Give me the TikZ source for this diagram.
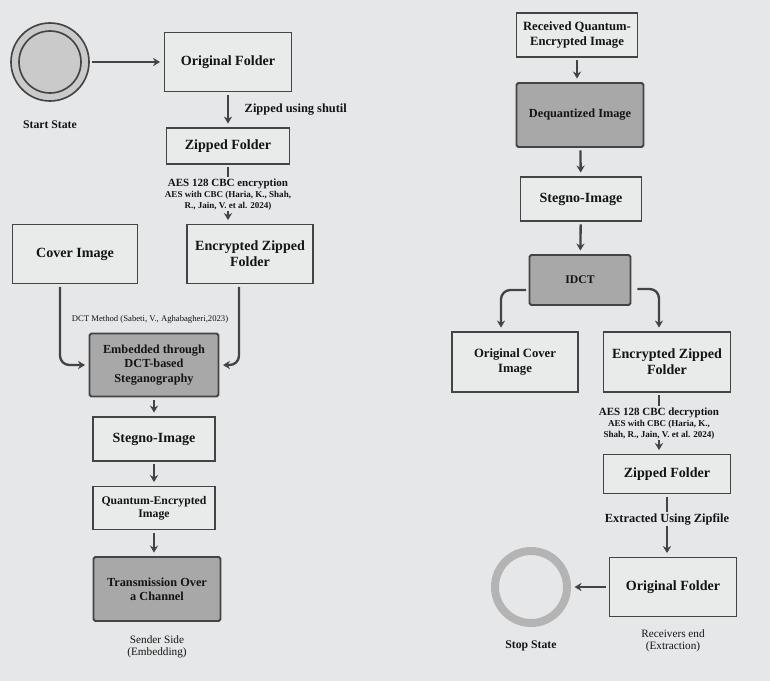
\documentclass[tikz,border=0pt]{standalone}
\usepackage{fontspec}
\setmainfont{Liberation Serif}
\usepackage{tikz}
\usetikzlibrary{shapes.geometric, arrows, arrows.meta}
\usetikzlibrary{positioning}
\definecolor{bgGrey}{HTML}{E6E7E8}
\definecolor{boxFill}{HTML}{E9EAEA}
\definecolor{darkFill}{HTML}{A8A8A8}
\definecolor{lineGrey}{HTML}{444444}
\definecolor{startFill}{HTML}{CACACA}
\definecolor{ringGrey}{HTML}{B4B4B4}
\tikzstyle{box} = [rectangle, minimum width=3.75cm, minimum height=1.77cm, align=center, draw=lineGrey, line width=1.6pt, fill=boxFill, text=black!92, font=\fontsize{12}{13.6}\selectfont\bfseries]
\tikzstyle{darkBox} = [box, fill=darkFill, rounded corners=1.5pt, font=\fontsize{10.5}{12.3}\selectfont\bfseries]
\tikzstyle{arrow} = [line width=2pt, draw=lineGrey, ->, >={Stealth[length=6pt, width=7pt]}, shorten <=2pt, shorten >=3pt]
\tikzstyle{stateNode} = [circle, minimum size=2.34cm, draw=lineGrey, line width=1.4pt, fill=startFill]
\tikzstyle{caption} = [align=center, text=black!92, font=\fontsize{10}{11.5}\selectfont\bfseries]
\tikzstyle{sideTxt} = [align=center, text=black!92, font=\fontsize{9.6}{10.4}\selectfont]
\tikzstyle{edgeTxt} = [text=black!92, font=\fontsize{10.6}{12}\selectfont\bfseries]
\tikzstyle{annot} = [fill=bgGrey, align=center, inner sep=1pt, text=black!92, font=\fontsize{7.7}{9.4}\selectfont\bfseries]

\begin{document}
\begin{tikzpicture}[node distance = 1 cm]
\path [use as bounding box, fill=bgGrey] (0,0) rectangle (23.1,-20.43);
% sender side
\node (start) [stateNode] at (1.5,-1.86) {};
\node (startIn) [stateNode, minimum size=1.86cm] at (start) {};
\node (startTxt) [caption, below of=start, node distance=1.89cm] {Start State};
\node (orig) [box, right of=start, node distance=5.34cm, minimum width=3.81cm] {Original Folder};
\node (zipped) [box, below of=orig, node distance=2.52cm, minimum width=3.69cm, minimum height=1.08cm] {Zipped Folder};
\node (encz) [box, below of=zipped, node distance=3.24cm, xshift=0.66cm, minimum width=3.78cm] {Encrypted Zipped\\Folder};
\node (cover) [box, left of=encz, node distance=5.25cm] {Cover Image};
\node (embed) [darkBox, below of=cover, node distance=3.33cm, xshift=2.37cm, minimum width=3.87cm, minimum height=1.89cm] {Embedded through\\DCT-based\\Steganography};
\node (dct) [sideTxt, font=\fontsize{7.4}{8}\selectfont, above of=embed, node distance=1.38cm, xshift=-0.12cm] {DCT Method (Sabeti, V., Aghabagheri,2023)};
\node (stegoL) [box, below of=embed, node distance=2.22cm, minimum width=3.66cm, minimum height=1.32cm] {Stegno-Image};
\node (quant) [box, below of=stegoL, node distance=2.07cm, minimum width=3.66cm, minimum height=1.29cm, font=\fontsize{10}{11.5}\selectfont\bfseries] {Quantum-Encrypted\\Image};
\node (trans) [darkBox, below of=quant, node distance=2.43cm, xshift=0.09cm, minimum width=3.81cm, minimum height=1.92cm] {Transmission Over\\a Channel};
\node (senderTxt) [sideTxt, below of=trans, node distance=1.74cm] {Sender Side\\(Embedding)};

\draw [arrow] (start) -- (orig);
\draw [arrow] (orig) -- node [edgeTxt, right, xshift=0.35cm] {Zipped using shutil} (zipped);
\draw [arrow] (zipped) -- node [annot] {{\fontsize{9.4}{10.2}\selectfont AES 128 CBC encryption}\\ AES with CBC (Haria, K., Shah,\\ R., Jain, V. et al. 2024)} (zipped.south |- encz.north);
\draw [arrow, rounded corners=8pt] ([xshift=-0.45cm]cover.south) |- (embed.west);
\draw [arrow, rounded corners=8pt] ([xshift=-0.33cm]encz.south) |- (embed.east);
\draw [arrow] (embed) -- (stegoL);
\draw [arrow] (stegoL) -- (quant);
\draw [arrow] (quant) -- (quant.south |- trans.north);

% receiver side
\node (recv) [box, minimum width=3.63cm, minimum height=1.32cm, font=\fontsize{10.8}{12.3}\selectfont\bfseries] at (17.31,-1.05) {Received Quantum-\\Encrypted Image};
\node (deq) [darkBox, below of=recv, node distance=2.4cm, xshift=0.09cm, minimum width=3.81cm, minimum height=1.92cm] {Dequantized Image};
\node (stegoR) [box, below of=deq, node distance=2.52cm, xshift=0.03cm, minimum width=3.63cm, minimum height=1.32cm] {Stegno-Image};
\node (idct) [darkBox, below of=stegoR, node distance=2.43cm, xshift=-0.03cm, minimum width=3.03cm, minimum height=1.5cm, font=\fontsize{10}{12}\selectfont\bfseries] {IDCT};
\node (ocover) [box, below of=idct, node distance=2.46cm, xshift=-1.95cm, minimum width=3.78cm, minimum height=1.8cm, font=\fontsize{10.8}{12.6}\selectfont\bfseries] {Original Cover\\Image};
\node (enczR) [box, right of=ocover, node distance=4.56cm, minimum width=3.81cm, minimum height=1.8cm] {Encrypted Zipped\\Folder};
\node (zippedR) [box, below of=enczR, node distance=3.36cm, minimum width=3.81cm, minimum height=1.17cm] {Zipped Folder};
\node (origR) [box, below of=zippedR, node distance=3.39cm, xshift=0.18cm, minimum width=3.81cm] {Original Folder};
\node (stop) [circle, minimum size=2.16cm, draw=ringGrey, line width=0.24cm, left of=origR, node distance=4.26cm] {};
\node (stopTxt) [caption, below of=stop, node distance=1.77cm] {Stop State};
\node (recvTxt) [sideTxt, below of=origR, node distance=1.62cm] {Receivers end\\(Extraction)};

\draw [arrow] (recv) -- (recv.south |- deq.north);
\draw [arrow] (deq) -- (stegoR);
\draw [arrow] (stegoR) -- (idct);
\draw [arrow, rounded corners=8pt] ([yshift=-0.3cm]idct.west) -| ([xshift=-0.42cm]ocover.north);
\draw [arrow, rounded corners=8pt, shorten <=5pt] ([yshift=-0.27cm]idct.east) -| ([xshift=-0.24cm]enczR.north);
\draw [arrow] ([xshift=-0.24cm]enczR.south) -- node [annot] {{\fontsize{9.4}{10.2}\selectfont AES 128 CBC decryption}\\ AES with CBC (Haria, K.,\\ Shah, R., Jain, V. et al. 2024)} ([xshift=-0.24cm]zippedR.north);
\draw [arrow] (zippedR) -- node [annot, edgeTxt, pos=0.4] {Extracted Using Zipfile} (zippedR.south |- origR.north);
\draw [arrow] (origR) -- (stop);
\end{tikzpicture}
\end{document}
